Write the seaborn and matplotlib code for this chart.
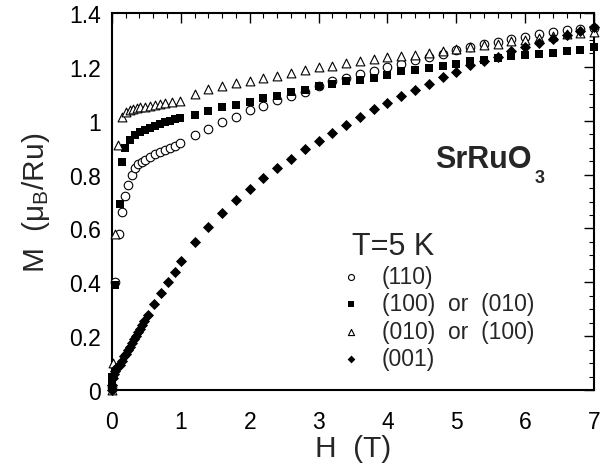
import matplotlib
matplotlib.use("Agg")
import matplotlib.pyplot as plt
import seaborn as sns
import pandas as pd
from matplotlib.ticker import MultipleLocator, FormatStrFormatter

sns.set_theme(style="white")
plt.rcParams['font.family'] = ['Liberation Sans', 'DejaVu Sans']
plt.rcParams['mathtext.fontset'] = 'custom'
plt.rcParams['mathtext.rm'] = 'Liberation Sans'
plt.rcParams['mathtext.bf'] = 'Liberation Sans:bold'

# field grid above 1 T (shared by all four curves)
h_high = [1.2, 1.4, 1.6, 1.8, 2.0, 2.2, 2.4, 2.6, 2.8, 3.0, 3.2, 3.4, 3.6, 3.8, 4.0,
          4.2, 4.4, 4.6, 4.8, 5.0, 5.2, 5.4, 5.6, 5.8, 6.0, 6.2, 6.4, 6.6, 6.8, 7.0]

# (110) open circles
h_110 = [0.0, 0.04, 0.1, 0.14, 0.19, 0.24, 0.29, 0.33, 0.38, 0.43, 0.48, 0.55, 0.62,
         0.70, 0.77, 0.84, 0.91, 0.99] + h_high
m_110 = [0.01, 0.40, 0.58, 0.66, 0.72, 0.76, 0.80, 0.825, 0.838, 0.848, 0.855, 0.864,
         0.875, 0.882, 0.891, 0.900, 0.907, 0.916,
         0.947, 0.970, 0.994, 1.015, 1.040, 1.056, 1.077, 1.090, 1.108, 1.127, 1.146,
         1.158, 1.173, 1.185, 1.200, 1.212, 1.224, 1.236, 1.249, 1.262, 1.272, 1.284,
         1.292, 1.302, 1.312, 1.320, 1.328, 1.335, 1.340, 1.345]

# (100) or (010) filled squares
h_100 = [0.0, 0.0, 0.04, 0.11, 0.14, 0.19, 0.26, 0.33, 0.41, 0.48, 0.55, 0.62, 0.70,
         0.77, 0.84, 0.91, 0.99] + h_high
m_100 = [0.02, 0.05, 0.39, 0.69, 0.845, 0.897, 0.928, 0.947, 0.959, 0.965, 0.974, 0.980,
         0.988, 0.994, 1.000, 1.005, 1.009,
         1.021, 1.035, 1.049, 1.058, 1.071, 1.083, 1.093, 1.105, 1.114, 1.127, 1.136,
         1.146, 1.152, 1.160, 1.168, 1.183, 1.190, 1.195, 1.204, 1.211, 1.220, 1.226,
         1.232, 1.239, 1.243, 1.247, 1.252, 1.258, 1.264, 1.272]

# (010) or (100) open triangles
h_010 = [0.0, 0.02, 0.04, 0.09, 0.14, 0.21, 0.26, 0.31, 0.36, 0.41, 0.48, 0.55, 0.62,
         0.70, 0.77, 0.87, 0.99] + h_high
m_010 = [0.0, 0.10, 0.58, 0.91, 1.015, 1.034, 1.040, 1.044, 1.046, 1.049, 1.052, 1.055,
         1.058, 1.061, 1.065, 1.068, 1.073,
         1.100, 1.116, 1.127, 1.139, 1.148, 1.160, 1.167, 1.176, 1.190, 1.198, 1.204,
         1.214, 1.220, 1.229, 1.235, 1.239, 1.244, 1.252, 1.260, 1.267, 1.274, 1.280,
         1.286, 1.294, 1.300, 1.306, 1.313, 1.320, 1.325, 1.330]

# (001) filled diamonds
h_001 = [0.0, 0.005, 0.01, 0.03, 0.05, 0.08, 0.11, 0.14, 0.17, 0.20, 0.23, 0.26, 0.29,
         0.32, 0.35, 0.38, 0.41, 0.44, 0.47, 0.52, 0.61, 0.71, 0.82, 0.915, 1.0] + h_high
m_001 = [0.0, 0.02, 0.045, 0.06, 0.07, 0.085, 0.095, 0.11, 0.125, 0.135, 0.15, 0.16,
         0.175, 0.19, 0.20, 0.215, 0.228, 0.24, 0.255, 0.278, 0.32, 0.36, 0.40, 0.44, 0.478,
         0.548, 0.606, 0.658, 0.707, 0.748, 0.788, 0.823, 0.858, 0.895, 0.926, 0.956,
         0.984, 1.014, 1.042, 1.064, 1.090, 1.114, 1.136, 1.161, 1.182, 1.205, 1.222,
         1.238, 1.257, 1.274, 1.290, 1.304, 1.318, 1.333, 1.348]

labels = ['(110)', '(100)  or  (010)', '(010)  or  (100)', '(001)']

fig = plt.figure(figsize=(6.05, 4.64), dpi=100)
ax = fig.add_axes([0.185, 0.157, 0.797, 0.813])

series = [
    (h_110, m_110, labels[0], dict(marker='o', s=38, facecolor='white', edgecolor='black', linewidth=0.8)),
    (h_100, m_100, labels[1], dict(marker='s', s=40, color='black', edgecolor='black', linewidth=0)),
    (h_010, m_010, labels[2], dict(marker='^', s=40, facecolor='white', edgecolor='black', linewidth=0.8)),
    (h_001, m_001, labels[3], dict(marker='D', s=32, color='black', edgecolor='black', linewidth=0)),
]
for h, m, lab, kw in series:
    df = pd.DataFrame({'H': h, 'M': m})
    sns.scatterplot(data=df, x='H', y='M', ax=ax, label=lab, clip_on=False, zorder=3, **kw)

ax.set_xlim(0, 7)
ax.set_ylim(0, 1.4)
ax.xaxis.set_major_locator(MultipleLocator(1))
ax.xaxis.set_minor_locator(MultipleLocator(0.2))
ax.yaxis.set_major_locator(MultipleLocator(0.2))
ax.yaxis.set_minor_locator(MultipleLocator(0.05))
ax.yaxis.set_major_formatter(FormatStrFormatter('%g'))
ax.tick_params(which='both', direction='in', top=True, right=True, colors='black', labelsize=16.5)
ax.tick_params(which='major', length=7, width=1)
ax.tick_params(which='minor', length=3.5, width=0.8)
ax.tick_params(axis='x', pad=14)
ax.tick_params(axis='y', pad=8)
for sp in ax.spines.values():
    sp.set_color('black')
    sp.set_linewidth(1.5)

ax.set_xlabel('H  (T)', fontsize=21.5, labelpad=1)
ax.set_ylabel(r'M  ($\mathregular{μ_B}$/Ru)', fontsize=21.5, labelpad=12)

ax.text(0.67, 0.592, 'SrRuO', transform=ax.transAxes, fontsize=22,
        fontweight='bold', ha='left', va='baseline')
ax.text(0.877, 0.552, '3', transform=ax.transAxes, fontsize=13,
        fontweight='bold', ha='left', va='baseline')
ax.text(0.498, 0.362, 'T=5 K', transform=ax.transAxes, fontsize=22,
        ha='left', va='baseline')

leg = ax.legend(loc='upper left', bbox_to_anchor=(0.472, 0.333), frameon=False,
                fontsize=16.5, markerscale=0.7, handlelength=1.0, handletextpad=0.85,
                labelspacing=0.2, borderpad=0, borderaxespad=0)

fig.savefig('out.png', dpi=100)
